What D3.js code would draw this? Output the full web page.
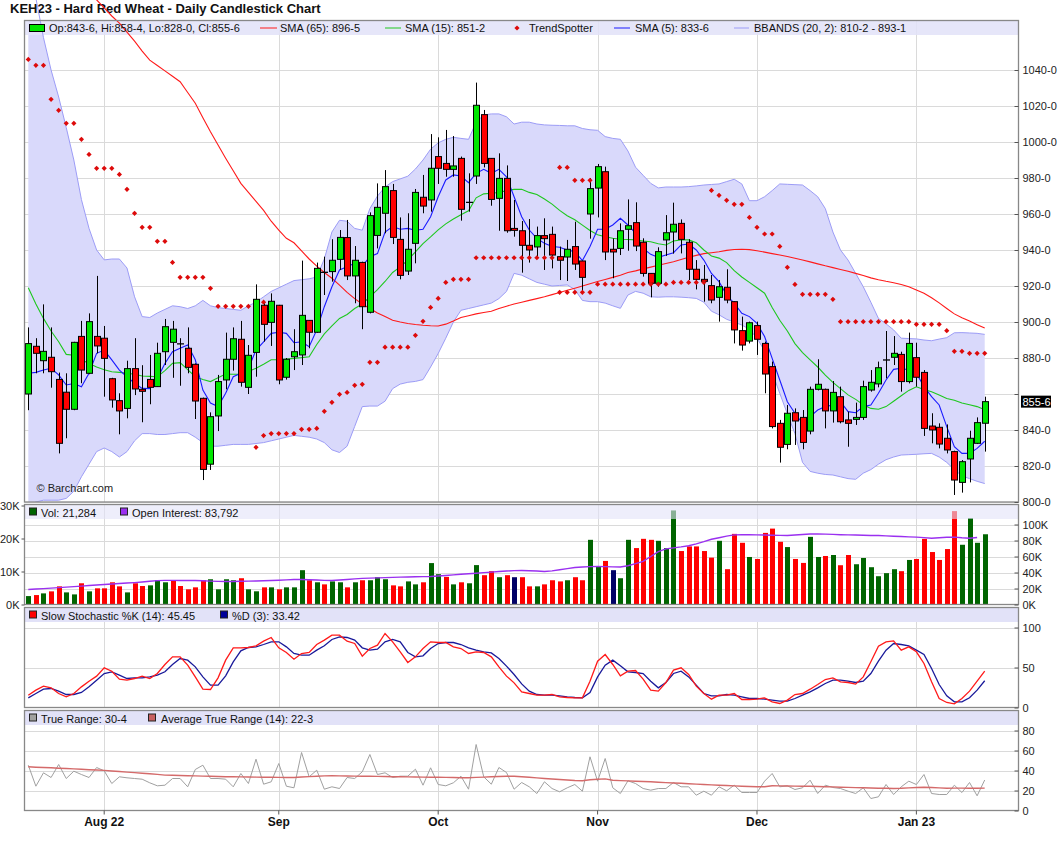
<!DOCTYPE html>
<html>
<head>
<meta charset="utf-8">
<title>KEH23 - Hard Red Wheat</title>
<script src="https://cdn.jsdelivr.net/npm/d3@7"></script>
<style>
body { margin: 0; background: #fff; }
svg { display: block; font-family: "Liberation Sans", Arial, sans-serif; }
</style>
</head>
<body>
<div id="chart"></div>
<script>
// daily bars, Jul 2022 -> Jan 2023 (index 0..126)
var opens = [860, 886.5, 878.5, 880.4, 868.1, 861, 851.5, 892, 871.5, 892,
 891, 868.5, 856.3, 852, 874.1, 862.6, 868.1, 864.1, 883.5, 888.7,
 887.8, 885.4, 876.5, 857.6, 821, 847.8, 867.8, 879.3, 890.4, 863.7,
 883.1, 909.3, 899.8, 909.3, 869.3, 880.7, 881.7, 900.9, 894.3, 927.6,
 928, 934.8, 946.9, 925.6, 933.1, 905.4, 948.1, 960.4, 973, 945.9,
 928.3, 943.7, 969.3, 967.8, 991.9, 988.1, 984.8, 990.9, 966.5, 981.1,
 1015.2, 990.9, 968.7, 979.8, 952, 950.7, 942.6, 941.7, 948, 948.7,
 936.3, 936.1, 941.9, 933.9, 960, 974.4, 983.5, 940.4, 940.9, 951.5,
 955.2, 944.3, 927, 921.5, 945.6, 950, 954.8, 944.3, 929.3, 923.7,
 920.2, 913.7, 919.3, 911.3, 895.2, 889.4, 898, 888.1, 875.2, 843.7,
 832, 849.6, 847, 839.4, 862.6, 862.6, 850.6, 858.5, 845.6, 845.9,
 847, 862.2, 865.6, 878.9, 880.4, 882, 866.9, 880.2, 872, 842.2,
 841.5, 835.4, 828, 810.9, 823.9, 832.6, 843.75];
var highs = [897, 891, 909.8, 897, 871.9, 871.5, 889, 900.6, 904.8, 925.6,
 897.8, 869, 860.4, 878.5, 891, 876, 881.7, 888.5, 901.7, 900.6,
 891, 897, 877, 858, 849.8, 870.6, 894.1, 897, 900.6, 887.2,
 920.9, 911.7, 915.9, 909.5, 880, 896, 934.1, 901, 933, 936.3,
 946, 951.1, 956.7, 942.2, 933.5, 960.9, 977, 984.4, 976.7, 958.1,
 960.4, 973.9, 981.7, 1004.4, 1002.6, 1006.7, 1003.3, 991.9, 982.6, 1033,
 1017.8, 991, 993.7, 987, 967.8, 956.1, 957.2, 953, 957.6, 953,
 941.9, 945.6, 955.7, 934, 980, 987.8, 986.3, 946.5, 954.8, 968.1,
 966.5, 946.5, 927, 941.5, 959.4, 966.3, 957, 946, 934.4, 931.7,
 926.1, 923.3, 929.3, 911.5, 903, 900.2, 900.2, 889.1, 878, 845.6,
 853.9, 852, 851.1, 864.1, 879.3, 863, 867.2, 864.1, 850.2, 855.2,
 867.4, 873.3, 878, 895, 892.2, 883.5, 894.1, 888.5, 873.3, 849.3,
 843.7, 843.1, 828.5, 823.3, 839.6, 847, 858.5];
var lows = [851, 871.5, 871.5, 863.5, 827, 835.4, 851, 866, 871, 882.6,
 858.5, 852.4, 837.6, 846.5, 859.4, 844.3, 854.3, 864, 876.1, 869,
 864.6, 871.5, 846.1, 812.2, 817.8, 839.4, 862.6, 873, 864.1, 860,
 869.6, 889.1, 886.7, 865.4, 868, 873.3, 876.1, 885.4, 894, 915,
 922.4, 928.9, 923.3, 910.4, 896, 904.8, 940.9, 949.3, 943.3, 923.7,
 926.1, 932.6, 960.4, 961.3, 976.7, 980.7, 980.7, 956.3, 961.3, 976.7,
 985.9, 964.6, 950.7, 949.6, 947.4, 927.4, 933, 936.3, 928.9, 929.8,
 923.3, 922.8, 928.9, 916.3, 946.3, 958.1, 934.4, 924.3, 937.2, 939.6,
 939.4, 925.2, 913.7, 919.6, 936.7, 938, 938.1, 923.3, 918.1, 911.3,
 910.4, 900.2, 910.4, 888.1, 884.1, 888.1, 881.7, 860.4, 840.9, 821.9,
 829.3, 831.7, 829.3, 837.6, 862, 840.9, 844.1, 843.7, 830.7, 842.8,
 845.6, 861.3, 863.7, 868.7, 876.1, 861.3, 865.9, 864.1, 836.7, 832.6,
 829.8, 827, 803.9, 805.2, 810.9, 832.2, 828];
var closes = [888, 882.6, 883.7, 872.4, 832.6, 851.5, 888.7, 873.3, 900.2, 886.7,
 879.8, 856.7, 850.6, 874.1, 862.8, 861.5, 863.7, 882.6, 897.4, 896,
 887.8, 874.8, 856.1, 818.1, 847.4, 866.9, 879.3, 890.7, 866.5, 881.5,
 912.6, 898.7, 911.5, 867.8, 879.3, 883.5, 903.7, 894.3, 929.8, 927.6,
 934.3, 947, 925.6, 934.3, 908.5, 959.1, 963.7, 975.2, 947, 925.9,
 940.4, 972, 964.4, 985.4, 985.4, 984.8, 986.7, 962.6, 966.5, 1020.4,
 988.1, 968.1, 979.8, 950.7, 950.9, 942.6, 940, 948, 946.3, 937.2,
 934.3, 940.4, 932.2, 924.8, 974.1, 986.3, 938.9, 938.9, 950.7, 953.5,
 942.2, 927, 921.5, 939.1, 949.6, 954.3, 945.9, 929.3, 923.7, 922.6,
 912.2, 919.6, 912.2, 895.6, 887.2, 899.6, 890.4, 871.1, 841.9, 830.4,
 849.3, 845, 833.1, 862.6, 865.4, 850.6, 860.9, 844.6, 843.7, 847,
 864.1, 866.5, 874.6, 878.9, 882.6, 866.9, 888.1, 869.3, 840.9, 840,
 832.2, 828.9, 812.2, 822.4, 835.4, 844.1, 855.75];

// volume in thousands, colour by change in close (G up, R down, N unchanged)
var volumes = [2.55, 2.86, 3.37, 3.98, 5.5, 3.67, 3.06, 6.43, 3.98, 4.9,
 4.9, 6.73, 5.5, 3.67, 6.43, 5.6, 5.8, 7.35, 6.73, 7.35,
 5.6, 4.6, 5.2, 7.35, 7.65, 4.6, 7.65, 7.35, 7.96, 4.6,
 4.0, 5.2, 5.2, 4.6, 5.2, 5.2, 10.4, 7.35, 6.73, 6.1,
 7.0, 6.73, 5.2, 6.73, 7.35, 7.35, 8.27, 7.65, 5.8, 5.5,
 7.0, 6.1, 6.73, 12.55, 9.18, 8.37, 6.1, 6.73, 6.43, 11.94,
 8.88, 10.1, 8.27, 8.88, 8.27, 8.27, 5.5, 5.5, 6.1, 7.35,
 7.0, 7.35, 8.27, 7.35, 19.6, 11.6, 13.2, 10.4, 7.96, 19.6,
 17.1, 19.9, 19.6, 19.3, 17.1, 28.5, 16.2, 17.6, 17.6, 16.2,
 14.2, 19.3, 10.7, 21.4, 18.7, 14.4, 13.8, 21.7, 23.0, 19.0,
 17.4, 13.8, 12.6, 20.5, 14.4, 14.7, 15.0, 11.9, 15.0, 12.2,
 14.1, 11.3, 8.57, 9.5, 10.7, 10.1, 13.5, 13.8, 19.9, 15.9,
 13.5, 16.8, 28.3, 18.1, 26.2, 18.7, 21.284];
var volDir = ("GRGRRGGRGRRRRGRRGGGRRRRRGGGGRGGRGRGGGRGRGGRGRGGGRRGGRGGRGRGGRRGRN" +
 "RRGRRRGRRGGRNGGRRRGGGRRRRRGRRRGRRRRGRRGGRGRRGGGGGGRGRRRRRRGGGG").split("");
var openInterest = [18.8, 19.3, 19.9, 20.5, 21.1, 21.7, 22.3, 23.0, 23.7, 24.4,
 25.0, 25.6, 26.2, 26.8, 27.4, 28.2, 29.0, 29.8, 30.2, 30.2,
 30.0, 30.0, 30.0, 29.6, 29.2, 28.9, 28.8, 28.8, 29.0, 29.2,
 29.4, 29.6, 30.0, 30.4, 30.8, 31.2, 31.2, 30.9, 30.6, 30.2,
 30.0, 30.6, 31.3, 32.0, 32.7, 33.0, 33.3, 33.6, 33.9, 34.2,
 34.4, 34.6, 34.8, 35.0, 35.6, 36.3, 37.0, 37.8, 38.4, 39.1,
 39.8, 40.5, 41.2, 41.8, 42.3, 42.5, 42.2, 41.8, 41.3, 42.0,
 43.4, 44.8, 46.2, 46.9, 47.4, 47.5, 47.3, 47.0, 46.8, 48.5,
 51.0, 54.0, 60.0, 66.0, 69.5, 70.8, 72.0, 73.5, 75.8, 78.5,
 81.5, 83.5, 85.5, 87.0, 87.2, 87.2, 87.0, 86.8, 86.6, 86.4,
 86.3, 86.8, 87.5, 88.2, 88.3, 88.0, 87.6, 87.2, 87.0, 86.8,
 86.5, 86.3, 86.2, 85.8, 85.4, 85.0, 84.5, 84.2, 83.6, 82.9,
 83.5, 84.0, 84.2, 83.4, 82.9, 83.792, null];

// studies on the price pane
var sma5 = [871.5, 872, 873.3, 874.3, 870.6, 865, 865.8, 864, 871.5, 882.6,
 884.4, 879, 873.3, 869.6, 866, 863.1, 863, 868.7, 877, 883.5,
 885.4, 887.2, 879, 862.2, 855, 853, 860.4, 869.6, 871.5, 874.3,
 884.4, 889, 893.7, 894.3, 893.7, 888.5, 889, 886.3, 895.6, 908.5,
 919.6, 928.9, 930.7, 932.6, 931, 936.3, 938, 950, 953, 951.5,
 952, 951, 951.5, 958.5, 969.6, 978.9, 981.7, 981.1, 977.4, 982.6,
 984.8, 982.6, 984.8, 980.7, 969.6, 958.5, 951.1, 946.5, 943.7, 941.9,
 941.5, 940, 939.1, 934.1, 941.9, 951.5, 951.5, 953.9, 957.6, 953.9,
 949.3, 940.9, 937.6, 935.9, 937.2, 938.5, 942.8, 943.3, 940, 934.4,
 927, 922.4, 915, 910.4, 904.8, 903, 899.3, 891.9, 879.8, 867.8,
 855.7, 849.3, 843.7, 847.4, 851.1, 853, 853.9, 855.7, 850.2, 849.6,
 853, 853.9, 860.4, 867.8, 873.7, 874.3, 873.3, 871.5, 864.1, 858.5,
 853.9, 841.9, 830.7, 827, 827, 829.8, 833.75];
var sma15 = [919, 910, 902, 895, 889, 882, 881.5, 879, 877, 875,
 873.5, 872.4, 872, 871.5, 871, 870, 869.8, 869.6, 873, 877,
 877.4, 873.5, 869.6, 868, 866.9, 869, 871.1, 871, 871, 872.5,
 874.3, 876.5, 879, 879, 879.4, 879.8, 880.2, 880.7, 887.5, 893.4,
 897.9, 902, 904.2, 907.5, 910, 914, 918, 922.5, 927.5, 930.6,
 934.4, 939, 943.6, 947.3, 951.2, 954.5, 957.2, 959.6, 961.8, 969,
 971.2, 971.5, 971.9, 973, 973.7, 973.7, 972, 970.8, 968.3, 965.5,
 962, 959, 956.8, 953.8, 950.8, 948.5, 947.4, 946.5, 946, 945.8,
 945.6, 945, 944.6, 943.5, 942.8, 945, 945.6, 945.6, 944, 940,
 936.7, 935.5, 933, 928.5, 925, 922, 919, 916, 908, 901,
 895, 888, 883, 879, 875, 870.5, 866.5, 863, 859.5, 857,
 854, 852, 851.5, 853, 856, 859, 862, 864, 862.5, 861.3,
 859.5, 857.5, 856.5, 855, 854, 853, 851.25];
var sma65 = [1121, 1116.5, 1112, 1107.5, 1103, 1098.5, 1094, 1089.5, 1084, 1079,
 1074.5, 1070, 1066, 1061, 1056, 1050.5, 1045.5, 1042.5, 1039.5, 1036.5,
 1033.5, 1027.5, 1021.5, 1013.5, 1005.7, 998.3, 991, 984, 977, 972,
 967, 962, 956, 951, 946.5, 944, 939.5, 935, 931, 927.5,
 924.3, 920.5, 916.5, 913, 910, 907.5, 905, 903, 901, 900,
 899.2, 898.6, 898.2, 897.9, 897.8, 898.8, 900.5, 902.5, 903.5, 904.5,
 905.3, 906, 907.5, 908.8, 910, 911, 912, 913, 914, 915.2,
 916.4, 917.6, 918.8, 920, 921.3, 922.5, 923.6, 924.8, 926, 927.5,
 928.4, 929.5, 930.5, 931.5, 932.5, 933.5, 934.7, 936, 937, 938,
 938.5, 939, 939.8, 940.3, 940.4, 940.2, 939.6, 938.8, 938, 937.2,
 936.4, 935.4, 934.4, 933.4, 932.3, 931.2, 930.2, 929.2, 928.2, 927,
 925.8, 924.5, 923.5, 922.6, 921.8, 920.8, 919.6, 917.8, 916, 913.5,
 910.6, 907.5, 904.5, 902.3, 900.5, 898.5, 896.6];
var bbUpper = [1100, 1080, 1058, 1040, 1025, 1008, 990, 968, 952, 940,
 934.5, 935, 935, 930, 914, 903, 902.5, 905, 907, 909,
 908.5, 907.5, 909, 912, 909, 908, 907.5, 907, 906.5, 909,
 911, 914, 917, 919, 921, 923, 923.5, 924, 925, 935,
 950, 956.5, 956, 952, 951, 963, 970, 975, 978, 979.5,
 981, 985, 990, 996, 999.5, 1001.5, 1002.6, 1002, 1001.5, 1011,
 1015, 1015.6, 1015.6, 1014, 1010, 1011, 1011, 1010, 1009.5, 1009.3,
 1009.2, 1009, 1009, 1007.5, 1006.8, 1006.5, 1003, 1002, 1001.5, 995,
 986, 981.5, 977, 974.5, 975, 975, 975, 975.2, 975.6, 976.1,
 976.4, 976.7, 978, 979.3, 976.7, 967.4, 967.4, 969.6, 973, 976.7,
 976.5, 976.3, 976.1, 973, 969.6, 963, 950, 940, 934.4, 927,
 919.6, 911, 902, 899, 895.6, 891, 890.8, 890.6, 890, 889.6,
 890.5, 891.3, 894, 894.1, 893.9, 893.7, 893.125];
var bbLower = [798, 800, 801, 801, 801, 802, 806, 814, 821, 828,
 830, 828, 825, 828, 834, 838, 838, 837.5, 837.5, 838,
 838.5, 838.5, 836, 833, 831, 831, 831.5, 832, 832, 832,
 832.5, 833, 834, 835, 836, 837, 836.5, 836, 835, 833,
 829, 827.5, 831, 842, 853, 853.3, 853.3, 856, 863, 865.5,
 866.5, 867, 868, 875, 882.5, 891, 900, 906.5, 907.5, 908.5,
 909.5, 910.5, 913, 917, 927, 926, 924, 922, 921, 920,
 920.3, 920.6, 918, 912, 911.3, 911.3, 910.5, 909, 907.6, 915,
 917, 916, 914, 913.8, 914, 914, 913.8, 913.5, 913.1, 911,
 906, 904, 901.5, 900, 898.3, 896, 891, 884, 872, 860.4,
 849, 838, 822, 817, 816, 815.3, 815, 814, 813, 812.6,
 816, 818, 821, 823.5, 825, 826.1, 826.3, 826.5, 826.8, 827,
 825, 822, 818, 814.5, 813, 811.5, 810.25];
var trendSpot = [1045.9, 1042.6, 1042.6, 1023.7, 1017.6, 1010.4, 1010.4, 1001.5, 993.1, 985.4,
 985.4, 985.4, 982, 973.7, 960.4, 952.6, 952.6, 944.8, 944.8, 933.1,
 924.8, 924.8, 924.8, 924.8, 918.7, 908.7, 908.7, 908.7, 908.7, 908.7,
 830.4, 836.9, 838, 838, 838, 838, 840.4, 840.4, 840.9, 850.4,
 855.4, 859.8, 860.9, 864.8, 865.4, 877.6, 877.6, 886, 886, 886,
 886, 892.6, 900.4, 908.1, 913.1, 922, 923.7, 923.7, 923.7, 935.7,
 935.7, 935.7, 935.7, 935.7, 935.7, 935.7, 935.7, 935.7, 935.7, 935.7,
 916.5, 916.5, 916.5, 916.5, 916.5, 921, 921, 921, 921, 921,
 921, 921, 921, 921, 921, 922, 922, 922, 922, 922,
 973.1, 970.4, 967.6, 965.4, 965.4, 958.1, 952.6, 948.9, 948.9, 942,
 930.4, 920.9, 915.4, 915.4, 915.4, 915.4, 912.6, 900.2, 900.2, 900.2,
 900.2, 900.2, 900.2, 900.2, 900.2, 900.2, 900.2, 898.7, 898.7, 898.7,
 898.7, 895.2, 883.7, 883.7, 882.6, 882.6, 882.6];
var trendAltIdx = [31, 70, 71, 72, 73, 74];
var trendAltVal = [911, 985.9, 985.9, 978.7, 978.7, 978.7];

// lower panes
var stochK = [15.4, 21.7, 26.7, 24.6, 17.5, 13.3, 17.5, 25.8, 32.9, 39.2,
 49.6, 45.4, 35.4, 34.2, 36.25, 39.2, 36.25, 42.5, 53.75, 63.3,
 63.3, 52.9, 38.3, 22.9, 22.5, 37.1, 59.2, 74.6, 74.6, 75,
 77.1, 82.9, 87.5, 74.6, 68.75, 60.4, 67.5, 68.75, 78.75, 84.2,
 90.4, 90.4, 82.9, 80, 64.2, 73.75, 77.9, 92.5, 82.1, 69.6,
 56.25, 63.3, 73.75, 82.1, 81.25, 81.25, 75.8, 73.75, 67.5, 69.6,
 68.75, 63.3, 50.8, 39.2, 30.8, 19.5, 17.5, 15.4, 15.4, 16.25,
 13.3, 12.5, 12.1, 12.1, 32.9, 57.9, 66.25, 53.75, 39.6, 45.4,
 46.25, 35.4, 21.7, 20.4, 31.25, 46.7, 49.6, 41.25, 26.7, 17.5,
 10.4, 15.4, 15.4, 17.5, 10, 10, 10.4, 12.1, 7.1, 5,
 9.2, 16.25, 17.5, 22.9, 28.75, 35, 37.1, 32.1, 31.25, 29.2,
 38.3, 57.1, 76.7, 82.1, 83.3, 71.7, 75.8, 69.6, 55, 32.1,
 11.25, 6.25, 4.6, 11.25, 20.4, 32.9, 45.45];
var stochD = [12.1, 17.5, 22.9, 23.75, 20.4, 16.25, 16.25, 18.75, 25.8, 34.2,
 42.5, 44.6, 40.4, 36.25, 37.1, 37.1, 38.3, 40.4, 44.6, 53.75,
 61.25, 59.2, 50.8, 38.3, 27.9, 27.9, 39.6, 57.1, 70.8, 75,
 75.8, 78.75, 82.1, 82.1, 75.8, 67.5, 65.4, 65.4, 71.7, 77.1,
 85, 88.3, 87.5, 84.2, 74.6, 71.7, 72.9, 82.1, 85, 82.1,
 68.75, 63.3, 64.6, 73.75, 80, 81.25, 81.25, 78.75, 74.6, 71.7,
 69.6, 68.3, 61.25, 51.7, 41.25, 29.5, 20.4, 16.25, 15.4, 15.4,
 14.6, 13.3, 12.5, 12.1, 18.75, 38.3, 52.9, 59.2, 52.1, 44.6,
 43.75, 42.5, 32.9, 24.6, 31.25, 42.5, 45.4, 38.3, 27.9, 17.5,
 14.6, 14.6, 16.25, 15.4, 13.3, 11.25, 11.25, 10.4, 9.2, 7.9,
 7.9, 11.25, 15.4, 19.6, 24.6, 30, 34.2, 34.2, 32.9, 31.25,
 32.9, 42.5, 57.9, 71.7, 80, 78.75, 77.1, 71.7, 66.25, 48.75,
 28.75, 14.6, 7.1, 7.1, 12.1, 21.7, 33.42];
var trueRange = [45.3, 24.3, 37.7, 33, 46, 32, 39.3, 36, 33, 43,
 39.7, 27, 33.7, 32.7, 32, 31.3, 27.7, 24.7, 25.3, 32,
 32, 23.7, 41, 45.3, 32, 32, 31.3, 23.7, 37, 27,
 51.3, 26.3, 28.7, 47, 24.3, 22.7, 58, 33.7, 40.3, 21.3,
 23.7, 22, 33, 32, 38.7, 56, 36, 37.7, 33, 34.3,
 34.3, 41.3, 25.3, 42.7, 26, 24.7, 27.7, 34.3, 21.3, 66,
 33.7, 26.3, 43, 38, 21.3, 28, 23.7, 17, 28.7, 22,
 18.7, 22.7, 26, 19.3, 53.7, 29.3, 52, 22.7, 17, 29.7,
 27, 22, 20.3, 22, 22, 28, 23.7, 23.7, 15.3, 19.3,
 15.3, 23.7, 19.7, 25.3, 18, 18, 18, 29.3, 37, 23.7,
 24.7, 21, 22.7, 30.3, 17, 25.3, 23, 22, 19.3, 17,
 22.7, 12, 13.7, 26, 16, 23.7, 29.3, 26, 36, 17,
 16, 16, 25.3, 18, 28, 14.7, 30.5];
var avgTrueRange = [43.7, 43.3, 43, 42.7, 42.3, 42, 41.6, 41.2, 40.8, 40.5,
 40.1, 39.5, 39, 38.4, 37.9, 37.3, 36.7, 36.1, 35.4, 35.2,
 35, 34.8, 34.6, 34.4, 34.2, 34, 33.8, 33.7, 33.6, 33.5,
 33.4, 33.3, 33.2, 33.1, 33, 33, 33.5, 33.9, 34.3, 34.6,
 34.7, 34.6, 34.5, 34.4, 34.3, 34.2, 34.1, 34, 33.8, 33.7,
 33.6, 33.5, 33.4, 33.3, 33.2, 33.1, 33, 32.8, 32.7, 33.1,
 33.4, 33.7, 34, 34.2, 34.3, 33.7, 33.2, 32.6, 32, 31.5,
 31, 30.5, 30, 29.7, 30.8, 31.3, 31.6, 30.3, 29.9, 29.6,
 29.3, 29, 28.7, 28.3, 27.9, 27.5, 27.2, 26.8, 26.4, 26,
 25.6, 25.3, 25, 24.6, 24.3, 24, 23.7, 23.8, 24.7, 24.6,
 24.5, 24.4, 24.3, 24.2, 24, 23.8, 23.6, 23.3, 23.1, 22.9,
 22.7, 22.5, 22.3, 22.2, 22, 22.2, 22.6, 23, 23.3, 23,
 22.6, 22.3, 22.4, 22.4, 22.3, 22.3, 22.375];

// axis labels
var monthIdx = [10, 33, 54, 75, 96, 117];
var monthLabels = ["Aug 22", "Sep", "Oct", "Nov", "Dec", "Jan 23"];
var priceTicks = [800, 820, 840, 860, 880, 900, 920, 940, 960, 980, 1000, 1020, 1040];
var volTicks = [0, 10, 20, 30];
var oiTicks = [0, 20, 40, 60, 80, 100];
var stochTicks = [0, 50, 100];
var trTicks = [0, 20, 40, 60, 80];

// grain prices are quoted in eighths: 855.75 -> "855-6"
function fmtPrice(v) {
    var w = Math.floor(v + 1e-9), e = Math.round((v - w) * 8);
    if (e == 8) { w++; e = 0; }
    return w + "-" + e;
}

var W = 1060, H = 851;
var L = 24.5, R = 1018.5;
var n = closes.length;
var svg = d3.select("#chart").append("svg").attr("width", W).attr("height", H);
var defs = svg.append("defs");

var x = d3.scaleBand().domain(d3.range(n)).range([24.5, 988.5]);
function cx(i) { return x(i) + x.bandwidth() / 2; }

var pMain = { top: 20.5, bottom: 502 },
    pVol = { top: 504.5, bottom: 604.5 },
    pSto = { top: 607.5, bottom: 707.5 },
    pTr = { top: 710.5, bottom: 810.5 };

var yP = d3.scaleLinear().domain([800, 1040]).range([502, 70]);
var yV = d3.scaleLinear().domain([0, 30]).range([604.5, 505.5]);
var yOI = d3.scaleLinear().domain([0, 100]).range([604.5, 524.5]);
var yS = d3.scaleLinear().domain([0, 100]).range([707.5, 627.5]);
var yT = d3.scaleLinear().domain([0, 80]).range([810.5, 730.5]);

function clipRect(id, x0, y0, x1, y1) {
    defs.append("clipPath").attr("id", id).append("rect")
        .attr("x", x0).attr("y", y0).attr("width", x1 - x0).attr("height", y1 - y0);
    return "url(#" + id + ")";
}

// background + grid for one pane
function pane(p, yScale, grid) {
    svg.append("rect").attr("x", L).attr("y", p.top).attr("width", R - L)
        .attr("height", p.bottom - p.top).attr("fill", "#fff");
    var g = svg.append("g").attr("stroke", "#dadada").attr("stroke-width", 1);
    g.selectAll(null).data(grid).enter().append("line")
        .attr("x1", L).attr("x2", R)
        .attr("y1", function (d) { return Math.round(yScale(d)) + 0.5; })
        .attr("y2", function (d) { return Math.round(yScale(d)) + 0.5; });
    g.selectAll(null).data(monthIdx).enter().append("line")
        .attr("y1", p.top).attr("y2", p.bottom)
        .attr("x1", function (d) { return Math.round(cx(d)) + 0.5; })
        .attr("x2", function (d) { return Math.round(cx(d)) + 0.5; });
}

function band(p, op) {
    svg.append("rect").attr("x", L).attr("y", p.top).attr("width", R - L).attr("height", 14.5)
        .attr("fill", "#e2e2f8").attr("opacity", op);
}

function border(p) {
    svg.append("rect").attr("x", L).attr("y", p.top).attr("width", R - L)
        .attr("height", p.bottom - p.top).attr("fill", "none")
        .attr("stroke", "#888").attr("stroke-width", 1.3);
}

function rightAxis(yScale, ticks, fmt) {
    var ax = svg.append("g").attr("transform", "translate(" + R + ",0)")
        .call(d3.axisRight(yScale).tickValues(ticks).tickFormat(fmt).tickSize(-4).tickPadding(4));
    ax.select(".domain").remove();
    ax.selectAll("line").attr("stroke", "#555");
    ax.selectAll("text").attr("font-size", 11).attr("fill", "#222")
        .attr("font-family", "Liberation Sans, Arial, sans-serif");
    return ax;
}

function legendText(xp, yb, t) {
    svg.append("text").attr("x", xp).attr("y", yb).attr("font-size", 11).attr("fill", "#111").text(t);
}
function legendBox(xp, p, color) {
    svg.append("rect").attr("x", xp).attr("y", p.top + 3.5).attr("width", 7).attr("height", 7)
        .attr("fill", color).attr("stroke", "#222").attr("stroke-width", 1);
}

// title
svg.append("text").attr("x", 10).attr("y", 13).attr("font-size", 13).attr("font-weight", "bold")
    .attr("fill", "#111").text("KEH23 - Hard Red Wheat - Daily Candlestick Chart");

// ---------- price pane ----------
pane(pMain, yP, priceTicks);
var clipMain = clipRect("cm", L, pMain.top, R, pMain.bottom);
var clipLines = clipRect("cl", L, 0, R, pMain.bottom);

svg.append("path").datum(d3.range(n)).attr("clip-path", clipMain)
    .attr("fill", "#d9d9fb")
    .attr("d", d3.area().x(function (i) { return cx(i); })
        .y0(function (i) { return yP(bbLower[i]); })
        .y1(function (i) { return yP(bbUpper[i]); }));
band(pMain, 0.85);

function priceLine(arr, color, w) {
    svg.append("path").datum(arr).attr("clip-path", clipLines)
        .attr("fill", "none").attr("stroke", color).attr("stroke-width", w)
        .attr("d", d3.line().defined(function (d) { return d != null; })
            .x(function (d, i) { return cx(i); }).y(function (d) { return yP(d); }));
}
priceLine(bbUpper, "#9c9cf6", 1);
priceLine(bbLower, "#9c9cf6", 1);
priceLine(sma65, "#ff1a1a", 1.1);
priceLine(sma15, "#1ec81e", 1.1);
priceLine(sma5, "#1a1aff", 1.1);

var candles = svg.append("g").attr("clip-path", clipMain);
candles.selectAll(null).data(d3.range(n)).enter().append("line")
    .attr("x1", function (i) { return Math.round(cx(i)) + 0.5; })
    .attr("x2", function (i) { return Math.round(cx(i)) + 0.5; })
    .attr("y1", function (i) { return yP(highs[i]); })
    .attr("y2", function (i) { return yP(lows[i]); })
    .attr("stroke", "#000").attr("stroke-width", 1);
candles.selectAll(null).data(d3.range(n).filter(function (i) { return opens[i] != closes[i]; }))
    .enter().append("rect")
    .attr("x", function (i) { return Math.round(cx(i)) - 2.5; })
    .attr("width", 6)
    .attr("y", function (i) { return yP(Math.max(opens[i], closes[i])); })
    .attr("height", function (i) { return Math.max(1, Math.abs(yP(opens[i]) - yP(closes[i]))); })
    .attr("fill", function (i) { return closes[i] > opens[i] ? "#00e600" : "#ff0000"; })
    .attr("stroke", "#000").attr("stroke-width", 1);
candles.selectAll(null).data(d3.range(n).filter(function (i) { return opens[i] == closes[i]; }))
    .enter().append("line")
    .attr("x1", function (i) { return Math.round(cx(i)) - 3; })
    .attr("x2", function (i) { return Math.round(cx(i)) + 4; })
    .attr("y1", function (i) { return yP(closes[i]); })
    .attr("y2", function (i) { return yP(closes[i]); })
    .attr("stroke", "#000").attr("stroke-width", 1.3);

// small red diamond used by TrendSpotter
var diamond = "M0,-2.6L2.6,0L0,2.6L-2.6,0Z";
var dots = svg.append("g").attr("clip-path", clipMain).attr("fill", "#dd0a0a");
dots.selectAll(null).data(d3.range(n).filter(function (i) { return trendSpot[i] != null; }))
    .enter().append("path").attr("d", diamond)
    .attr("transform", function (i) { return "translate(" + cx(i) + "," + yP(trendSpot[i]) + ")"; });
dots.selectAll(null).data(trendAltIdx).enter().append("path").attr("d", diamond)
    .attr("transform", function (d, k) { return "translate(" + cx(d) + "," + yP(trendAltVal[k]) + ")"; });

svg.append("text").attr("x", 36.5).attr("y", 492).attr("font-size", 11).attr("fill", "#222")
    .text("\u00a9 Barchart.com");

// price legend
var ly = pMain.top + 7.5, lb = pMain.top + 11.5;
svg.append("rect").attr("x", 29.5).attr("y", pMain.top + 4).attr("width", 15).attr("height", 7)
    .attr("fill", "#00e600").attr("stroke", "#000");
legendText(49, lb, "Op:" + fmtPrice(opens[n - 1]) + ", Hi:" + fmtPrice(highs[n - 1]) +
    ", Lo:" + fmtPrice(lows[n - 1]) + ", Cl:" + fmtPrice(closes[n - 1]));
svg.append("line").attr("x1", 260).attr("x2", 277).attr("y1", ly).attr("y2", ly).attr("stroke", "#ff1a1a");
legendText(280, lb, "SMA (65): " + fmtPrice(sma65[n - 1]));
svg.append("line").attr("x1", 385).attr("x2", 401).attr("y1", ly).attr("y2", ly).attr("stroke", "#1ec81e");
legendText(405, lb, "SMA (15): " + fmtPrice(sma15[n - 1]));
svg.append("path").attr("d", diamond).attr("fill", "#dd0a0a").attr("transform", "translate(517," + ly + ")");
legendText(529, lb, "TrendSpotter");
svg.append("line").attr("x1", 614).attr("x2", 630).attr("y1", ly).attr("y2", ly).attr("stroke", "#1a1aff");
legendText(635, lb, "SMA (5): " + fmtPrice(sma5[n - 1]));
svg.append("line").attr("x1", 734).attr("x2", 749).attr("y1", ly).attr("y2", ly).attr("stroke", "#9c9cf6");
legendText(754, lb, "BBANDS (20, 2): " + fmtPrice(bbLower[n - 1]) + " - " + fmtPrice(bbUpper[n - 1]));
border(pMain);

// the last-price box hides any tick label it would cover
var lastY = yP(closes[n - 1]);
var pAxis = rightAxis(yP, priceTicks, fmtPrice);
pAxis.selectAll(".tick").filter(function (d) { return Math.abs(yP(d) - lastY) < 12; })
    .select("text").remove();
svg.append("rect").attr("x", 1021).attr("y", lastY - 6).attr("width", 30).attr("height", 12).attr("fill", "#000");
svg.append("text").attr("x", 1022.5).attr("y", lastY + 4).attr("font-size", 11).attr("fill", "#fff")
    .text(fmtPrice(closes[n - 1]));

// ---------- volume pane ----------
pane(pVol, yOI, [20, 40, 60, 80, 100]);
var clipVol = clipRect("cv", L, pVol.top, R, pVol.bottom);
var volColor = { G: "#006400", R: "#ff0000", N: "#000066" };
svg.append("g").attr("clip-path", clipVol).selectAll(null).data(d3.range(n)).enter().append("rect")
    .attr("x", function (i) { return Math.round(cx(i)) - 2; })
    .attr("width", 5)
    .attr("y", function (i) { return yV(volumes[i]); })
    .attr("height", function (i) { return yV(0) - yV(volumes[i]); })
    .attr("fill", function (i) { return volColor[volDir[i]]; });
svg.append("path").datum(openInterest).attr("fill", "none").attr("stroke", "#9a30f0").attr("stroke-width", 1.4)
    .attr("d", d3.line().defined(function (d) { return d != null; })
        .x(function (d, i) { return cx(i); }).y(function (d) { return yOI(d); }));
band(pVol, 0.6);
legendBox(29.5, pVol, "#006400");
legendText(41, pVol.top + 12, "Vol: " + d3.format(",")(Math.round(volumes[n - 1] * 1000)));
legendBox(120.5, pVol, "#9a30f0");
legendText(132, pVol.top + 12, "Open Interest: " + d3.format(",")(Math.round(openInterest[n - 2] * 1000)));
border(pVol);
rightAxis(yOI, oiTicks, function (d) { return d + "K"; });
var va = svg.append("g").attr("transform", "translate(" + L + ",0)")
    .call(d3.axisLeft(yV).tickValues(volTicks).tickFormat(function (d) { return d + "K"; }).tickSize(3).tickPadding(2));
va.select(".domain").remove();
va.selectAll("line").attr("stroke", "#555");
va.selectAll("text").attr("font-size", 11).attr("fill", "#222").attr("font-family", "Liberation Sans, Arial, sans-serif");

// ---------- stochastic pane ----------
pane(pSto, yS, [50, 100]);
function paneLine(arr, yScale, color, w) {
    svg.append("path").datum(arr).attr("fill", "none").attr("stroke", color).attr("stroke-width", w)
        .attr("d", d3.line().x(function (d, i) { return cx(i); }).y(function (d) { return yScale(d); }));
}
paneLine(stochD, yS, "#1a1a9a", 1.3);
paneLine(stochK, yS, "#ff1a1a", 1.3);
band(pSto, 1);
legendBox(29.5, pSto, "#ff0000");
legendText(41, pSto.top + 12, "Slow Stochastic %K (14): " + stochK[n - 1].toFixed(2));
legendBox(220.5, pSto, "#000099");
legendText(232, pSto.top + 12, "%D (3): " + stochD[n - 1].toFixed(2));
border(pSto);
rightAxis(yS, stochTicks, d3.format("d"));

// ---------- true range pane ----------
pane(pTr, yT, [20, 40, 60, 80]);
paneLine(trueRange, yT, "#a0a0a0", 1);
paneLine(avgTrueRange, yT, "#d46a6a", 1.4);
band(pTr, 1);
legendBox(29.5, pTr, "#a0a0a0");
legendText(41, pTr.top + 12, "True Range: " + fmtPrice(trueRange[n - 1]));
legendBox(148.5, pTr, "#c86060");
legendText(161, pTr.top + 12, "Average True Range (14): " + fmtPrice(avgTrueRange[n - 1]));
border(pTr);
rightAxis(yT, trTicks, d3.format("d"));

// month axis
var xa = svg.append("g").attr("transform", "translate(0," + pTr.bottom + ")")
    .call(d3.axisBottom(x).tickValues(monthIdx)
        .tickFormat(function (d, k) { return monthLabels[k]; }).tickSize(4).tickPadding(3));
xa.select(".domain").remove();
xa.selectAll("line").attr("stroke", "#555");
xa.selectAll("text").attr("font-size", 12).attr("font-weight", "bold").attr("fill", "#111")
    .attr("font-family", "Liberation Sans, Arial, sans-serif");
</script>
</body>
</html>
